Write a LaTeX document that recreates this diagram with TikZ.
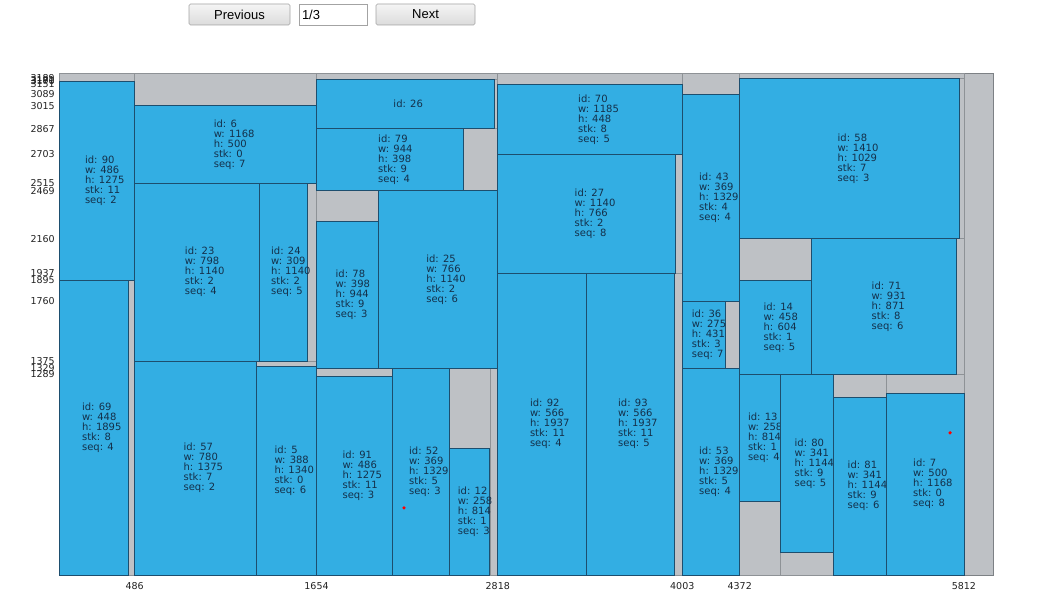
\documentclass[tikz,border=0pt]{standalone}
\usepackage{fontspec}
\setmainfont{DejaVu Sans}
\newfontfamily\btnfont{Liberation Sans}
\usetikzlibrary{shadings}
\definecolor{blkblue}{HTML}{33AEE3}
\definecolor{blkedge}{HTML}{1D4E6E}
\definecolor{grfill}{HTML}{BEC1C5}
\definecolor{gredge}{HTML}{8E9296}
\definecolor{boxedge}{HTML}{7D8185}
\definecolor{txtc}{HTML}{14304A}
\definecolor{axc}{HTML}{222222}
\definecolor{btnedge}{HTML}{A3A3A3}
\tikzset{
  blkst/.style={fill=blkblue,draw=blkedge,line width=0.7pt},
  grst/.style={fill=grfill,draw=gredge,line width=0.6pt},
  lbl/.style={anchor=west,inner sep=0pt,align=left,text=txtc,font=\fontsize{10}{10}\selectfont},
  ylab/.style={anchor=east,inner sep=0pt,text=axc,font=\fontsize{9.5}{10}\selectfont},
  xlab/.style={anchor=center,inner sep=0pt,text=axc,font=\fontsize{9.5}{10}\selectfont},
  btn/.style={draw=btnedge,line width=0.6pt,top color=white!96!black,bottom color=white!86!black,rounded corners=1.5pt,minimum height=21pt,inner sep=0pt,font=\btnfont\fontsize{13}{13}\selectfont},
  pagebox/.style={draw=btnedge,line width=0.6pt,fill=white,minimum height=21pt,text width=62pt,inner xsep=3pt,inner ysep=0pt,align=left,font=\btnfont\fontsize{13}{13}\selectfont},
  dot/.style={fill=red}
}
\newcommand\gr[4]{\path[grst] (#1,#2) rectangle ++(#3,#4);}
\newcommand\blk[7]{%
  \path[blkst] (#1,#2) rectangle ++(#3,#4);
  \node[lbl] (b#5) at ([xshift=-12pt]{#1+#3/2},{#2+#4/2}) {id: #5\\w: #3\\h: #4\\stk: #6\\seq: #7};}
\newcommand\ylabel[1]{\node[ylab] (y#1) at ([xshift=-4pt]0,#1) {#1};}
\newcommand\xlabel[1]{\node[xlab] (x#1) at ([yshift=-11pt]#1,0) {#1};}
\begin{document}
\begin{tikzpicture}
\useasboundingbox (0,0) rectangle (1059pt,609pt);
% navigation
\node[btn,minimum width=101pt] (prev) at (239.5pt,594.5pt) {Previous};
\node[pagebox] (page) at (333pt,594.5pt) {1/3};
\node[btn,minimum width=99pt] (next) at (425.5pt,594.5pt) {Next};
\begin{scope}[shift={(59pt,34pt)},x=0.1557pt,y=0.1557pt]
% container and columns
\path[fill=grfill,draw=boxedge,line width=0.7pt] (0,0) rectangle (6000,3220);
\gr{0}{0}{486}{3220}
\gr{486}{0}{1168}{3220}
\gr{1654}{0}{1164}{3220}
\gr{2818}{0}{1185}{3220}
\gr{4003}{0}{369}{3220}
\gr{4372}{0}{1440}{3220}
% rows
\gr{0}{0}{486}{1895} \gr{0}{1895}{486}{1275}
\gr{486}{0}{1168}{1375} \gr{486}{1375}{1168}{1140} \gr{486}{2515}{1168}{500}
\gr{1654}{0}{1164}{1329} \gr{1654}{1329}{1164}{1140} \gr{1654}{2469}{1164}{398} \gr{1654}{2867}{1164}{314}
\gr{2818}{0}{1185}{1937} \gr{2818}{1937}{1185}{766} \gr{2818}{2703}{1185}{448}
\gr{4003}{0}{369}{1329} \gr{4003}{1329}{369}{431} \gr{4003}{1760}{369}{1329}
\gr{4372}{0}{1440}{1289} \gr{4372}{1289}{1440}{871} \gr{4372}{2160}{1440}{1029}
% stacks
\gr{1266}{0}{388}{1375}
\gr{1654}{0}{486}{1329} \gr{2140}{0}{369}{1329} \gr{2509}{0}{258}{1329}
\gr{1654}{1329}{398}{1140}
\gr{4372}{0}{258}{1289} \gr{4630}{0}{341}{1289} \gr{4971}{0}{341}{1289} \gr{5312}{0}{500}{1289}
\gr{4372}{1289}{458}{871}
% blocks
\blk{0}{0}{448}{1895}{69}{8}{4}
\blk{0}{1895}{486}{1275}{90}{11}{2}
\blk{486}{0}{780}{1375}{57}{7}{2}
\blk{1266}{0}{388}{1340}{5}{0}{6}
\blk{486}{1375}{798}{1140}{23}{2}{4}
\blk{1284}{1375}{309}{1140}{24}{2}{5}
\blk{486}{2515}{1168}{500}{6}{0}{7}
\blk{1654}{0}{486}{1275}{91}{11}{3}
\blk{2140}{0}{369}{1329}{52}{5}{3}
\blk{2509}{0}{258}{814}{12}{1}{3}
\blk{1654}{1329}{398}{944}{78}{9}{3}
\blk{2052}{1329}{766}{1140}{25}{2}{6}
\blk{1654}{2469}{944}{398}{79}{9}{4}
\path[blkst] (1654,2867) rectangle ++(1140,314);
\node[lbl] (b26) at ([xshift=-12pt]2224,3024) {id: 26};
\blk{2818}{0}{566}{1937}{92}{11}{4}
\blk{3384}{0}{566}{1937}{93}{11}{5}
\blk{2818}{1937}{1140}{766}{27}{2}{8}
\blk{2818}{2703}{1185}{448}{70}{8}{5}
\blk{4003}{0}{369}{1329}{53}{5}{4}
\blk{4003}{1329}{275}{431}{36}{3}{7}
\blk{4003}{1760}{369}{1329}{43}{4}{4}
\blk{4372}{475}{258}{814}{13}{1}{4}
\blk{4630}{145}{341}{1144}{80}{9}{5}
\blk{4971}{0}{341}{1144}{81}{9}{6}
\blk{5312}{0}{500}{1168}{7}{0}{8}
\blk{4372}{1289}{458}{604}{14}{1}{5}
\blk{4830}{1289}{931}{871}{71}{8}{6}
\blk{4372}{2160}{1410}{1029}{58}{7}{3}
% red points
\coordinate (r1) at (2216,431);
\coordinate (r2) at (5723,913);
\fill[dot] (r1) circle (1.8pt);
\fill[dot] (r2) circle (1.8pt);
% axis labels
\ylabel{3189}\ylabel{3181}\ylabel{3170}\ylabel{3151}\ylabel{3089}\ylabel{3015}
\ylabel{2867}\ylabel{2703}\ylabel{2515}\ylabel{2469}\ylabel{2160}\ylabel{1937}
\ylabel{1895}\ylabel{1760}\ylabel{1375}\ylabel{1329}\ylabel{1289}
\xlabel{486}\xlabel{1654}\xlabel{2818}\xlabel{4003}\xlabel{4372}\xlabel{5812}
\end{scope}
\end{tikzpicture}
\end{document}
